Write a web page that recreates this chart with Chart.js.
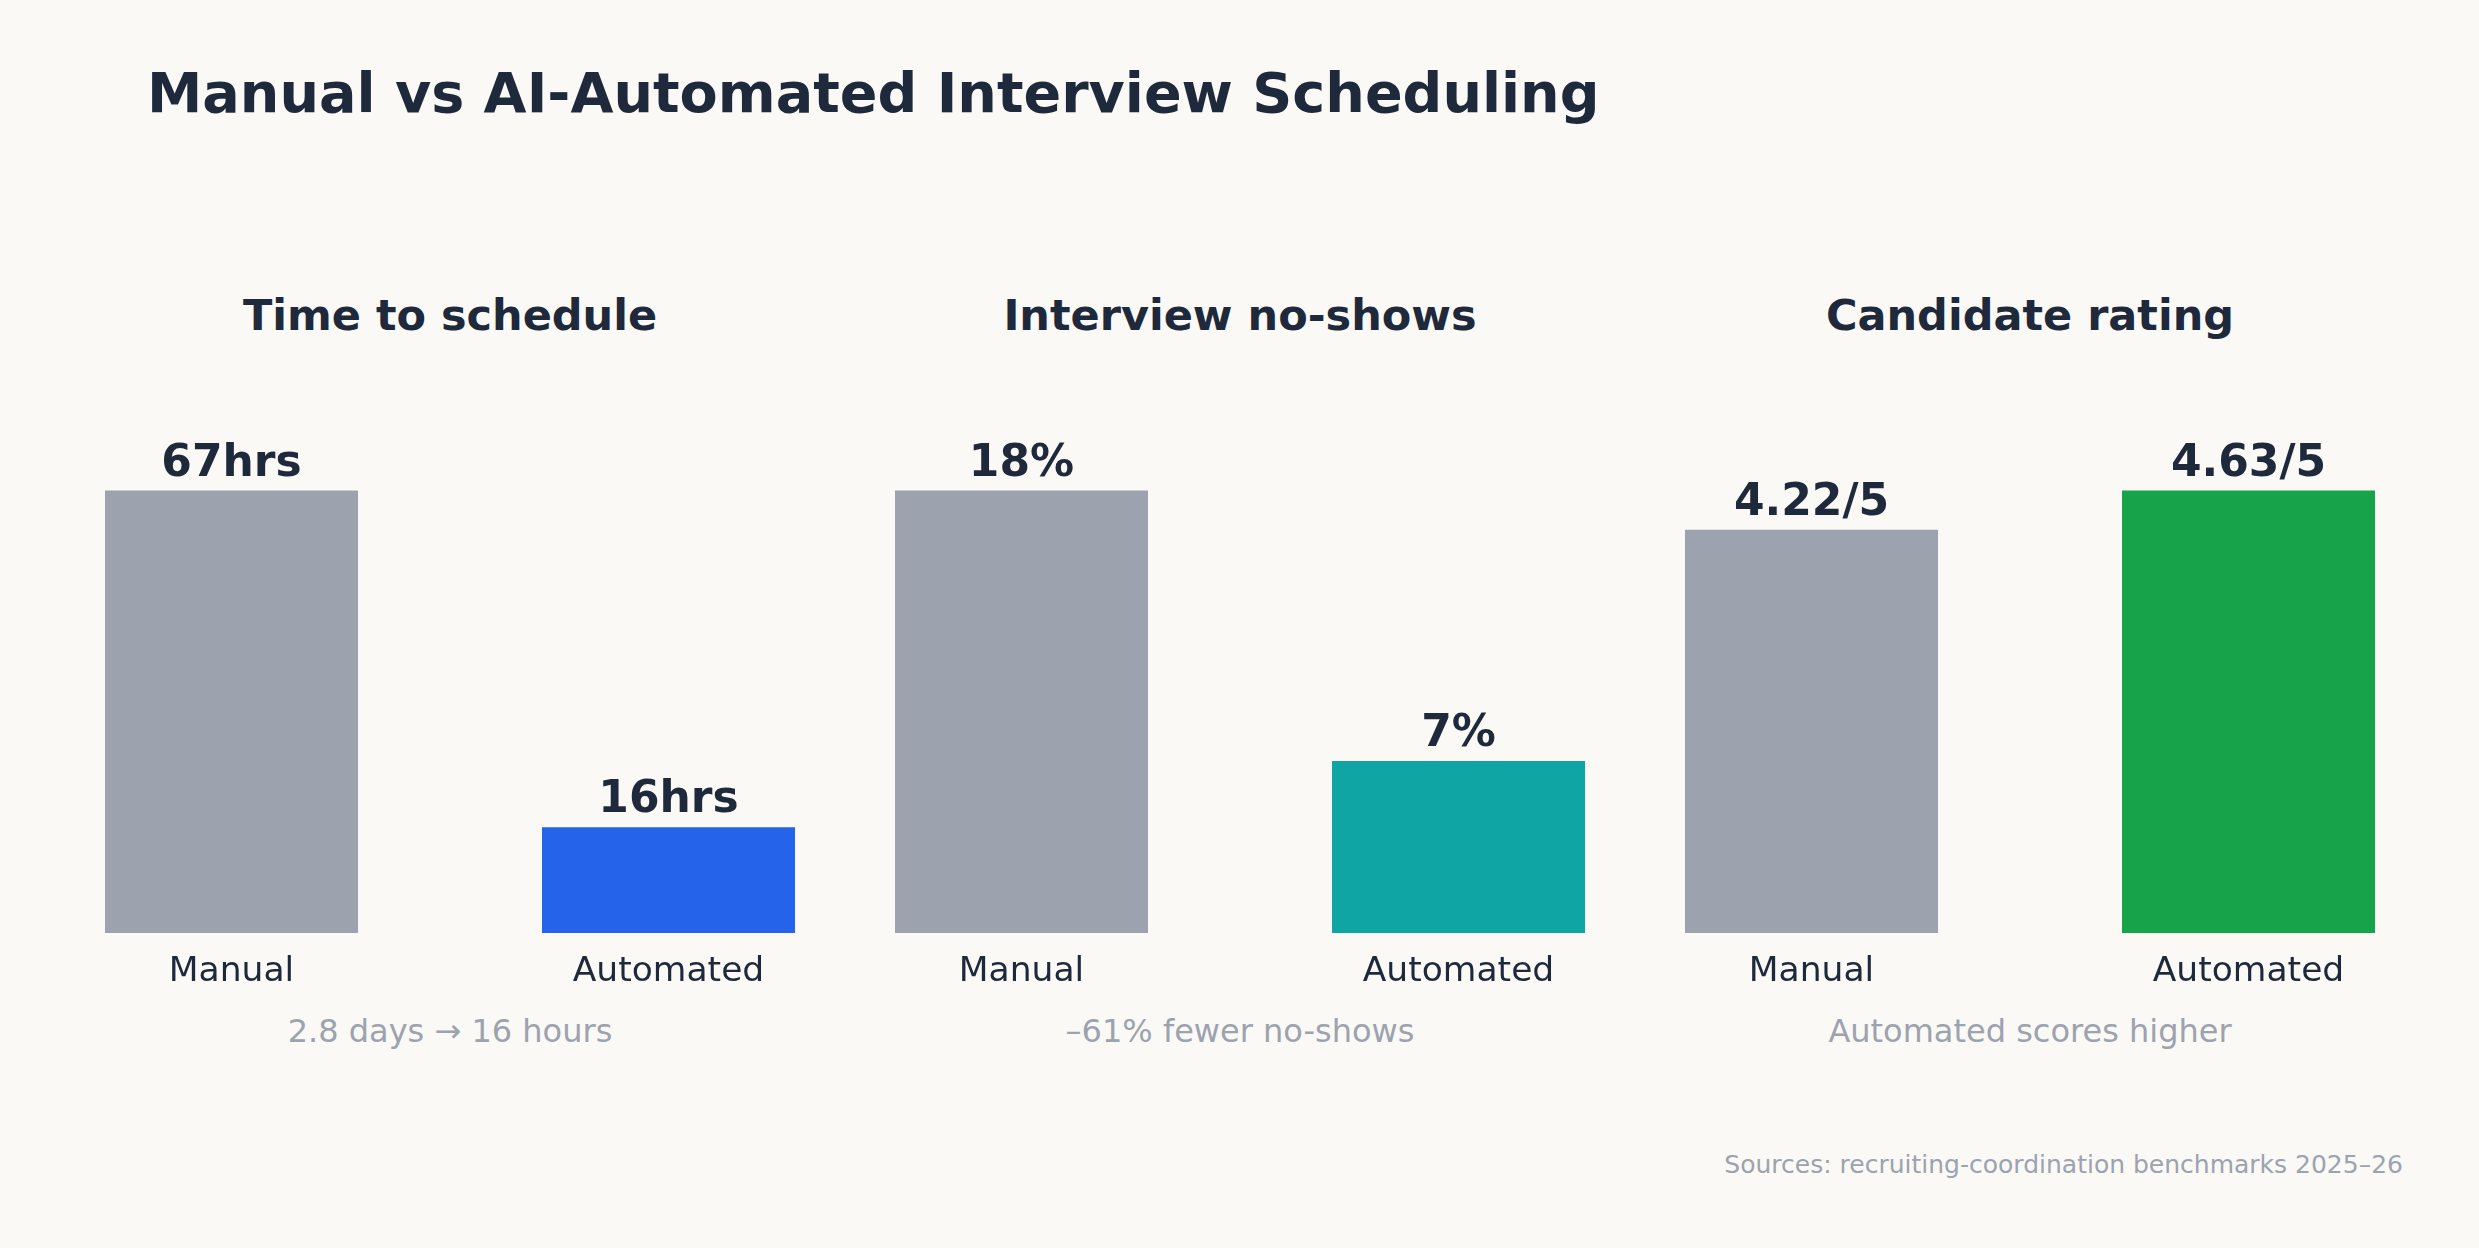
<!DOCTYPE html>
<html>
<head>
<meta charset="utf-8">
<script src="https://cdn.jsdelivr.net/npm/chart.js@4"></script>
<style>
  body { margin: 0; background: #faf9f6; font-family: "DejaVu Sans", sans-serif; }
  #page { position: relative; width: 2479px; height: 1248px; overflow: hidden; }
  .txt { position: absolute; line-height: 1; white-space: nowrap; }
  #title { left: 147px; top: 65px; font-size: 55.6px; font-weight: bold; color: #1e293b; }
  .panel-title { width: 874px; text-align: center; top: 294px; font-size: 43px; font-weight: bold; color: #1e293b; }
  .panel-note { width: 874px; text-align: center; top: 1015px; font-size: 32px; color: #9ca3af; }
  #sources { right: 76px; top: 1152px; font-size: 25px; color: #9ca3af; }
  canvas { position: absolute; top: 380px; }
</style>
</head>
<body>
<div id="page">
  <div id="title" class="txt">Manual vs AI-Automated Interview Scheduling</div>
  <div id="sources" class="txt">Sources: recruiting-coordination benchmarks 2025–26</div>
  <canvas id="timeChart" width="874" height="613" style="left:13px"></canvas>
  <canvas id="noShowChart" width="874" height="613" style="left:803px"></canvas>
  <canvas id="ratingChart" width="874" height="613" style="left:1593px"></canvas>
</div>
<script>
// Data for the three small bar panels
const categories = ['Manual', 'Automated'];

const panelTitles = ['Time to schedule', 'Interview no-shows', 'Candidate rating'];
const panelNotes = ['2.8 days → 16 hours', '–61% fewer no-shows', 'Automated scores higher'];

const hoursValues = [67, 16];
const hoursLabels = ['67hrs', '16hrs'];

const noShowValues = [18, 7];
const noShowLabels = ['18%', '7%'];

const ratingValues = [4.22, 4.63];
const ratingLabels = ['4.22/5', '4.63/5'];

const manualColor = '#9ca3af';

// plugin: draws the value text above every bar
const valueLabelPlugin = {
  id: 'valueLabels',
  afterDatasetsDraw(chart, args, opts) {
    const ctx = chart.ctx;
    const meta = chart.getDatasetMeta(0);
    ctx.save();
    ctx.font = 'bold 44px "DejaVu Sans"';
    ctx.fillStyle = '#1e293b';
    ctx.textAlign = 'center';
    ctx.textBaseline = 'alphabetic';
    meta.data.forEach((bar, i) => {
      ctx.fillText(opts.labels[i], bar.x, bar.y - 15);
    });
    ctx.restore();
  }
};

function createChart(chartId, values, labels, color) {
  const canvas = document.getElementById(chartId);
  return new Chart(canvas, {
    type: 'bar',
    data: {
      labels: categories,
      datasets: [{
        data: values,
        backgroundColor: [manualColor, color],
        borderWidth: 0,
        barPercentage: 0.579,
        categoryPercentage: 1
      }]
    },
    options: {
      responsive: false,
      animation: false,
      devicePixelRatio: 1,
      layout: { padding: 0 },
      plugins: {
        legend: { display: false },
        tooltip: { enabled: false },
        valueLabels: { labels: labels }
      },
      scales: {
        x: {
          grid: { display: false, drawTicks: false },
          border: { display: false },
          ticks: {
            color: '#1e293b',
            font: { family: 'DejaVu Sans', size: 34.5 },
            padding: 18
          },
          afterFit(scale) { scale.height = 60; }
        },
        y: {
          display: false,
          min: 0,
          max: Math.max(...values) * 1.25
        }
      }
    },
    plugins: [valueLabelPlugin]
  });
}

// panel titles and notes as page text
const page = document.getElementById('page');
const lefts = [13, 803, 1593];
panelTitles.forEach((t, i) => {
  const d = document.createElement('div');
  d.className = 'txt panel-title';
  d.style.left = lefts[i] + 'px';
  d.textContent = t;
  page.appendChild(d);
  const n = document.createElement('div');
  n.className = 'txt panel-note';
  n.style.left = lefts[i] + 'px';
  n.textContent = panelNotes[i];
  page.appendChild(n);
});

createChart('timeChart', hoursValues, hoursLabels, '#2563eb');
createChart('noShowChart', noShowValues, noShowLabels, '#10a5a5');
createChart('ratingChart', ratingValues, ratingLabels, '#16a34a');
</script>
</body>
</html>
